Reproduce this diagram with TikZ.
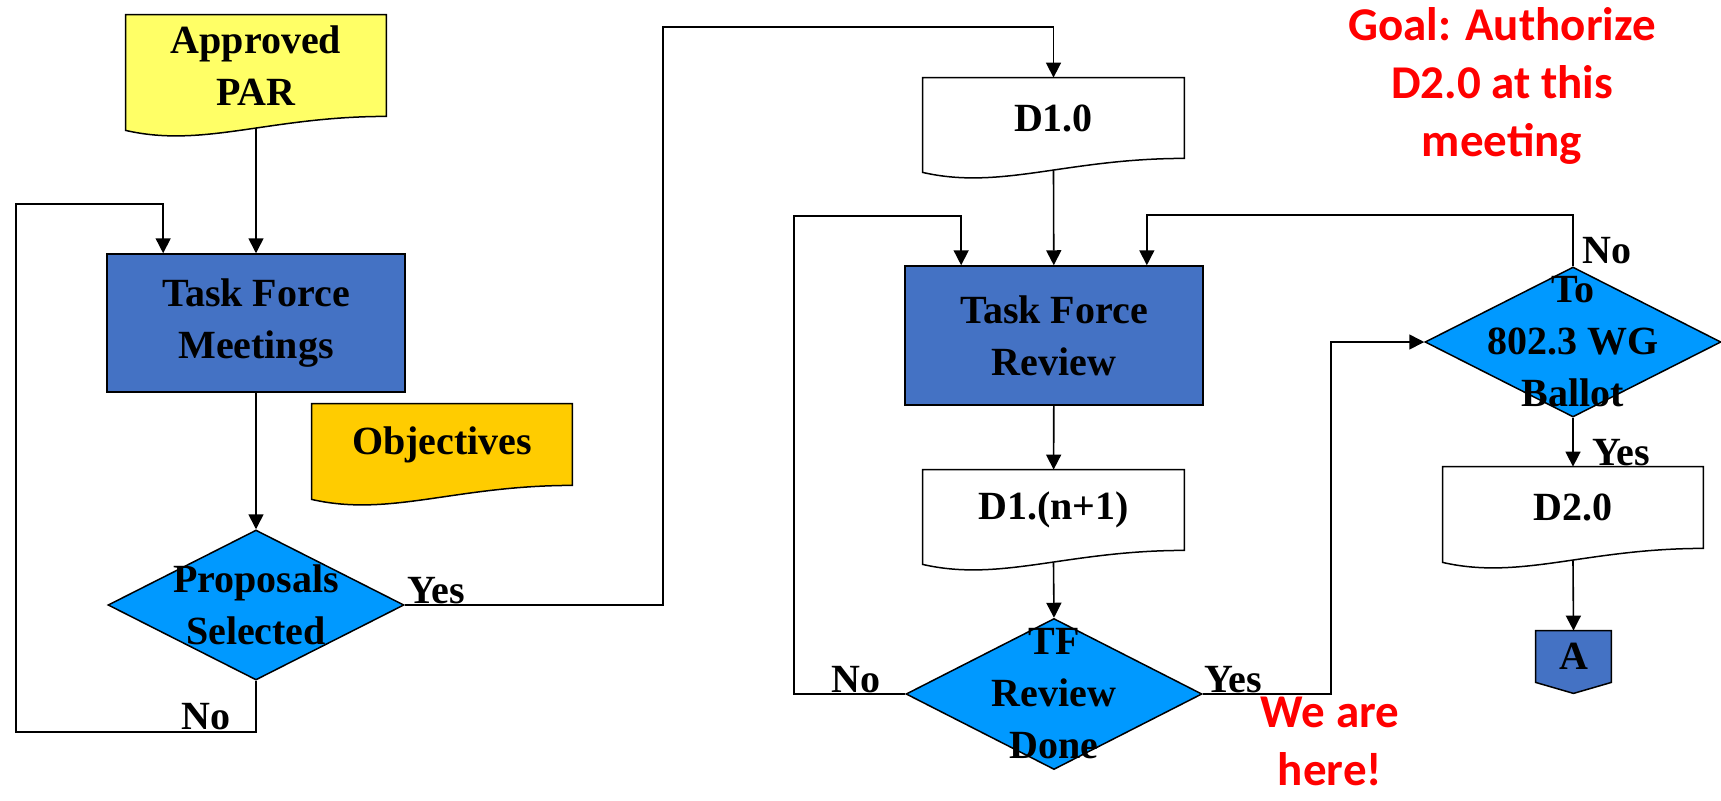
\documentclass[tikz,border=0pt]{standalone}
\usepackage{fontspec}
\setmainfont{Liberation Serif}
\newfontfamily\notefont{Carlito}
\usetikzlibrary{shapes.geometric,arrows.meta,calc,backgrounds}

\definecolor{parYellow}{HTML}{FFFF66}
\definecolor{objGold}{HTML}{FFCC00}
\definecolor{boxBlue}{HTML}{4472C4}
\definecolor{diaBlue}{HTML}{0099FF}

\newcommand{\docshape}[2]{%
  \begin{scope}[on background layer]
    \draw[fill=#2, line width=0.75pt] ($(#1.south west)+(0,14)$) -- (#1.north west) -- (#1.north east) -- (#1.south east)
      .. controls ($(#1.south west)!0.55!(#1.south east)$) and ($(#1.south west)!0.3!(#1.south east)+(0,32)$) .. ($(#1.south west)+(0,14)$) -- cycle;
  \end{scope}}
\newcommand{\offpage}[2]{%
  \begin{scope}[on background layer]
    \draw[fill=#2, line width=0.75pt] (#1.north west) -- (#1.north east) -- (#1.south east)
      -- ($(#1.south)+(0,11)$) -- (#1.south west) -- cycle;
  \end{scope}}

\begin{document}
\begin{tikzpicture}[x=0.5pt, y=-0.5pt,
  font=\fontsize{20}{26}\selectfont\bfseries,
  doc/.style={minimum width=130pt, inner sep=0pt, align=center},
  proc/.style={draw, fill=boxBlue, minimum width=149pt, minimum height=69pt, align=center, line width=0.75pt},
  decision/.style={diamond, draw, fill=diaBlue, minimum width=148pt, minimum height=75pt, inner sep=0pt, line width=0.75pt},
  flow/.style={-{Triangle[length=7.5pt,width=7.5pt]}, line width=0.8pt},
  note/.style={text=red, font=\notefont\fontsize{23.5}{29}\selectfont\bfseries, align=center, inner sep=0pt},
  ans/.style={inner sep=0pt, anchor=base west}]
\useasboundingbox (0,0) rectangle (1721,800);

\node[doc, minimum height=50.5pt] (approvedPar) at (256,65.5) {Approved\\PAR};
\node[proc] (tfMeetings) at (256,323) {Task Force\\Meetings};
\node[doc, minimum height=40.5pt] (objectives) at (442,444.5) {Objectives};
\node[decision, label={[align=center]center:Proposals\\Selected}] (propSel) at (256,605) {};

\node[doc, minimum width=130.5pt, minimum height=40pt] (d10) at (1053.5,118) {D1.0};
\node[proc, minimum height=69.5pt] (tfReview) at (1054,335.5) {Task Force\\Review};
\node[doc, minimum width=130.5pt, minimum height=40pt] (d1n) at (1053.5,510) {D1.(n+1)};
\node[decision, minimum height=75.5pt, label={[align=center]center:TF\\Review\\Done}] (tfDone) at (1054,694) {};

\node[decision, label={[align=center]center:To\\802.3 WG\\Ballot}] (wgBallot) at (1573,342) {};
\node[doc, minimum height=40.5pt] (d20) at (1573,507.5) {D2.0};
\node[inner sep=0pt, minimum width=37.5pt, minimum height=25.5pt] (offA) at (1573.5,656.5) {A};

\docshape{approvedPar}{parYellow}
\docshape{objectives}{objGold}
\docshape{d10}{white}
\docshape{d1n}{white}
\docshape{d20}{white}
\offpage{offA}{boxBlue}

\draw[flow] ([yshift=-6pt]approvedPar.south) -- (tfMeetings);
\draw[flow] (tfMeetings) -- (propSel);
\draw[flow] (propSel.south) -- ++(0,51) -| (16,204) -| ($(tfMeetings.north west)!0.19!(tfMeetings.north east)$);
\draw[flow] (propSel.east) -| (663,27) -| (d10.north);

\draw[flow] ([yshift=-6pt]d10.south) -- (tfReview);
\draw[flow] (tfReview) -- (d1n);
\draw[flow] ([yshift=-6pt]d1n.south) -- (tfDone.north);
\draw[flow] (tfDone.west) -| (794,216) -| ($(tfReview.north west)!0.19!(tfReview.north east)$);
\draw[flow] (tfDone.east) -| (1331,342) -- (wgBallot.west);
\draw[flow] (wgBallot.north) -- ++(0,-51) -| ($(tfReview.north west)!0.81!(tfReview.north east)$);
\draw[flow] (wgBallot.south) -- (d20.north);
\draw[flow] ([yshift=-6pt]d20.south) -- (offA.north);

\node[ans] (noSel) at (181,729) {No};
\node[ans] (yesSel) at (407,603) {Yes};
\node[ans] (noDone) at (831,692) {No};
\node[ans] (yesDone) at (1204,692) {Yes};
\node[ans] (noBallot) at (1582,263) {No};
\node[ans] (yesBallot) at (1592,465) {Yes};

\node[note] (goal) at (1502,86) {Goal: Authorize\\D2.0 at this\\meeting};
\node[note] (here) at (1330,741) {We are\\here!};
\end{tikzpicture}
\end{document}
